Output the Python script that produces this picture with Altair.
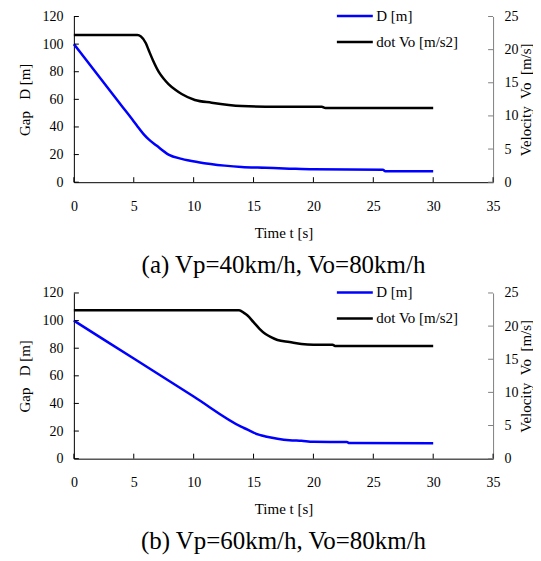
import altair as alt
import pandas as pd

FONT = "Liberation Serif"

# ---- data ----
series_names = ["D [m]", "dot Vo [m/s2]"]
series_colors = ["#0000FF", "#000000"]

# panel (a) Vp=40km/h, Vo=80km/h
t_D_a = [0, 1, 2, 3, 4, 5, 5.3, 5.8, 6.25, 6.9, 7.9, 9, 10.4, 12.6, 14, 16, 18, 20, 25.8, 26, 30]
D_a = [100, 88.8, 77.6, 66.4, 55.2, 44, 40.5, 35, 31, 26.5, 20, 16.9, 14.5, 12, 11, 10.4, 9.8, 9.3, 9.0, 8.0, 7.9]
t_V_a = [0, 5.3, 5.6, 6, 6.25, 6.6, 7.1, 7.5, 7.9, 8.5, 9, 10.1, 11.5, 14, 16, 20.7, 21, 30]
V_a = [22.2, 22.2, 22.0, 21.0, 19.9, 18.4, 16.6, 15.6, 14.8, 13.9, 13.3, 12.4, 12.0, 11.5, 11.4, 11.4, 11.2, 11.2]

# panel (b) Vp=60km/h, Vo=80km/h
t_D_b = [0, 5, 10, 14, 14.5, 15, 15.5, 16, 17, 18, 19, 20, 22.8, 23, 30]
D_b = [100, 72.5, 45, 23, 21, 18.8, 17.2, 16.1, 14.5, 13.4, 12.9, 12.2, 12.0, 11.3, 11.2]
t_V_b = [0, 13.8, 14.2, 14.5, 15, 15.5, 16, 16.5, 17, 18, 19, 20, 21.6, 21.8, 30]
V_b = [22.4, 22.4, 22.0, 21.6, 20.6, 19.6, 18.8, 18.3, 17.9, 17.6, 17.3, 17.2, 17.2, 17.0, 17.0]

captions = ["(a) Vp=40km/h, Vo=80km/h", "(b) Vp=60km/h, Vo=80km/h"]

x_ticks = [0, 5, 10, 15, 20, 25, 30, 35]
left_ticks = [0, 20, 40, 60, 80, 100, 120]
right_ticks = [0, 5, 10, 15, 20, 25]

W, H = 420, 166
TICK = 5

AX = dict(labelFont=FONT, titleFont=FONT, labelFontSize=14, titleFontSize=15,
          titleFontWeight="normal", labelColor="black", titleColor="black",
          ticks=False, tickSize=0, grid=False)


def panel(tD, D, tV, V, caption):
    dfD = pd.DataFrame({"t": tD, "val": D, "series": series_names[0]})
    dfV = pd.DataFrame({"t": tV, "val": V, "series": series_names[1]})
    dfX = pd.DataFrame({"t": x_ticks})
    dfL = pd.DataFrame({"val": left_ticks})
    dfR = pd.DataFrame({"val": right_ticks})

    xscale = alt.Scale(domain=[0, 35], nice=False, zero=False)
    lscale = alt.Scale(domain=[0, 120], nice=False)
    rscale = alt.Scale(domain=[0, 25], nice=False)

    x_axis = alt.Axis(values=x_ticks, labelPadding=17, title="Time t [s]",
                      titlePadding=12, domainColor="black", labelFlush=False, **AX)
    l_axis = alt.Axis(values=left_ticks, labelPadding=11,
                      title="Gap\u00a0\u00a0\u00a0D [m]", titlePadding=9,
                      domainColor="black", **AX)
    r_axis = alt.Axis(values=right_ticks, labelPadding=11,
                      title="Velocity\u00a0\u00a0Vo\u00a0\u00a0[m/s]", titlePadding=0,
                      titleAngle=270, titleBaseline="top", orient="right",
                      domainColor="#808080", **AX)

    color = alt.Color(
        "series:N",
        scale=alt.Scale(domain=series_names, range=series_colors),
        legend=alt.Legend(
            title=None, orient="none", legendX=286, legendY=-8,
            symbolType="M-5,0L1,0", symbolSize=144, symbolStrokeWidth=2.5,
            labelFont=FONT, labelFontSize=15, labelColor="black",
            labelOffset=2, rowPadding=10, padding=0,
        ),
    )

    lineD = alt.Chart(dfD).mark_line(strokeWidth=2.5, interpolate="monotone").encode(
        x=alt.X("t:Q", scale=xscale, axis=x_axis),
        y=alt.Y("val:Q", scale=lscale, axis=l_axis),
        color=color,
    )
    xt = alt.Chart(dfX).mark_rule(color="black", strokeWidth=1).encode(
        x=alt.X("t:Q", scale=xscale, axis=x_axis),
        y=alt.value(H), y2=alt.value(H - TICK),
    )
    lt = alt.Chart(dfL).mark_rule(color="black", strokeWidth=1).encode(
        y=alt.Y("val:Q", scale=lscale, axis=l_axis),
        x=alt.value(0), x2=alt.value(TICK),
    )
    lineV = alt.Chart(dfV).mark_line(strokeWidth=2.5, interpolate="monotone").encode(
        x=alt.X("t:Q", scale=xscale, axis=x_axis),
        y=alt.Y("val:Q", scale=rscale, axis=r_axis),
        color=color,
    )
    rt = alt.Chart(dfR).mark_rule(color="#808080", strokeWidth=1).encode(
        y=alt.Y("val:Q", scale=rscale, axis=r_axis),
        x=alt.value(W - TICK), x2=alt.value(W),
    )
    left = alt.layer(lineD, xt, lt)
    right = alt.layer(lineV, rt)
    return alt.layer(left, right).resolve_scale(y="independent").properties(
        width=W, height=H,
        title=alt.TitleParams(text=caption, orient="bottom", font=FONT, fontSize=25,
                              fontWeight="normal", anchor="middle", frame="group",
                              color="black", offset=13),
    )


chart = alt.vconcat(
    panel(t_D_a, D_a, t_V_a, V_a, captions[0]),
    panel(t_D_b, D_b, t_V_b, V_b, captions[1]),
    spacing=7,
).resolve_legend(color="independent").resolve_scale(color="independent").properties(
    padding={"left": 10, "top": 0, "right": 0, "bottom": 0}
).configure(font=FONT).configure_view(stroke=None).configure_axis(
    labelFont=FONT, titleFont=FONT,
).configure_legend(labelFont=FONT)

chart.save("out.html", embed_options={"renderer": "svg", "actions": False})
